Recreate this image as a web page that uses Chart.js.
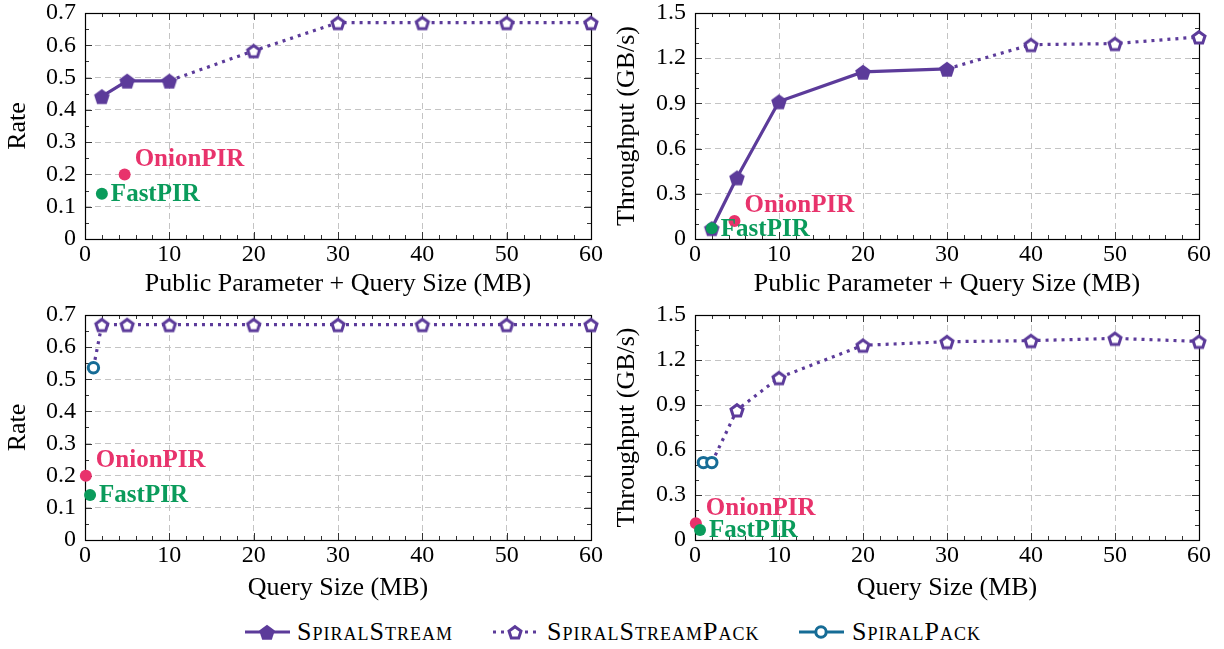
<!DOCTYPE html>
<html><head><meta charset="utf-8">
<script src="https://cdn.jsdelivr.net/npm/chart.js@4.4.1/dist/chart.umd.min.js"></script>
<style>
html,body{margin:0;padding:0;background:#fff;}
body{width:1224px;height:649px;overflow:hidden;position:relative;font-family:'Liberation Serif','Times New Roman',serif;}
.pane{position:absolute;}
.li{position:absolute;top:618px;height:28px;}
.li span{position:absolute;top:0;font-size:26px;font-variant:small-caps;letter-spacing:1px;white-space:nowrap;line-height:28px;color:#000;}
.li svg{position:absolute;top:4px;}
</style></head>
<body>
<div class="pane" style="left:0;top:0"><canvas id="c1" width="612" height="300"></canvas></div>
<div class="pane" style="left:612px;top:0"><canvas id="c2" width="612" height="300"></canvas></div>
<div class="pane" style="left:0;top:300px"><canvas id="c3" width="612" height="305"></canvas></div>
<div class="pane" style="left:612px;top:300px"><canvas id="c4" width="612" height="305"></canvas></div>
<div id="legend"></div>
<script>
// ---------- data ----------
const xTicks = [0, 10, 20, 30, 40, 50, 60];
const rateTicks = [0, 0.1, 0.2, 0.3, 0.4, 0.5, 0.6, 0.7];
const thrTicks = [0, 0.3, 0.6, 0.9, 1.2, 1.5];

// Top-left: rate vs public parameter + query size
const streamPP = [2, 5, 10];
const streamRatePP = [0.442, 0.49, 0.49];
const streamPackPP = [10, 20, 30, 40, 50, 60];
const streamPackRatePP = [0.49, 0.583, 0.67, 0.67, 0.67, 0.67];
const onionPP = [4.7], onionRatePP = [0.2];
const fastPP = [2], fastRatePP = [0.14];

// Top-right: throughput vs public parameter + query size
const streamPP2 = [2, 5, 10, 20, 30];
const streamThrPP = [0.071, 0.408, 0.913, 1.109, 1.129];
const streamPackPP2 = [30, 40, 50, 60];
const streamPackThrPP = [1.129, 1.29, 1.297, 1.341];
const onionThrPP = [0.12];
const fastThrPP = [0.071];

// Bottom-left: rate vs query size
const packQ = [1], packRateQ = [0.536];
const streamPackQ = [1, 2, 5, 10, 20, 30, 40, 50, 60];
const streamPackRateQ = [0.536, 0.67, 0.67, 0.67, 0.67, 0.67, 0.67, 0.67, 0.67];
const onionQ = [0.1], onionRateQ = [0.2];
const fastQ = [0.6], fastRateQ = [0.14];

// Bottom-right: throughput vs query size
const packQ2 = [1, 2], packThrQ = [0.516, 0.516];
const streamPackQ2 = [2, 5, 10, 20, 30, 40, 50, 60];
const streamPackThrQ = [0.516, 0.867, 1.082, 1.298, 1.322, 1.329, 1.344, 1.324];
const onionThrQ = [0.111];
const fastThrQ = [0.067];

const seriesNames = ['SpiralStream', 'SpiralStreamPack', 'SpiralPack'];

// ---------- styles ----------
const FONT = "'Liberation Serif', 'Times New Roman', serif";
const PURPLE = '#5c3b9a';
const BLUE = '#166c96';
const PINK = '#e8336c';
const GREEN = '#0a9b5b';

function pentagon(filled) {
  const s = 22, c = document.createElement('canvas');
  c.width = s; c.height = s;
  const g = c.getContext('2d');
  const r = filled ? 8.2 : 6.3;
  g.beginPath();
  for (let i = 0; i < 5; i++) {
    const a = -Math.PI / 2 + i * 2 * Math.PI / 5;
    const px = s / 2 + r * Math.cos(a), py = s / 2 + 1 + r * Math.sin(a);
    if (i) g.lineTo(px, py); else g.moveTo(px, py);
  }
  g.closePath();
  if (filled) { g.fillStyle = PURPLE; g.fill(); }
  else { g.fillStyle = '#fff'; g.fill(); g.lineWidth = 3; g.strokeStyle = PURPLE; g.lineJoin = 'miter'; g.stroke(); }
  return c;
}
const PENT_FILLED = pentagon(true);
const PENT_OPEN = pentagon(false);

const pts = (xs, ys) => xs.map((x, i) => ({ x: x, y: ys[i] }));

function streamDS(xs, ys) {
  return { label: seriesNames[0], data: pts(xs, ys), showLine: true, borderColor: PURPLE, backgroundColor: PURPLE,
    borderWidth: 3.2, pointStyle: PENT_FILLED, pointRadius: 8, clip: false };
}
function streamPackDS(xs, ys) {
  return { label: seriesNames[1], data: pts(xs, ys), showLine: true, borderColor: PURPLE, backgroundColor: '#fff',
    borderWidth: 3.2, borderDash: [3, 5], pointStyle: PENT_OPEN,
    pointRadius: xs.map((v, i) => i === 0 ? 0 : 8), clip: false };
}
function packDS(xs, ys) {
  return { label: seriesNames[2], data: pts(xs, ys), showLine: true, borderColor: BLUE, backgroundColor: '#fff',
    borderWidth: 3, pointStyle: 'circle', pointRadius: 5.2, pointBorderWidth: 3, clip: false };
}
function dotDS(name, x, y, color, dx, dy) {
  return { label: name, data: pts(x, y), showLine: false, borderColor: color, backgroundColor: color,
    pointStyle: 'circle', pointRadius: 6, pointBorderWidth: 0, clip: false, tag: name, tagDx: dx, tagDy: dy };
}

const labelPlugin = {
  id: 'ptlabels',
  afterDatasetsDraw(chart) {
    const ctx = chart.ctx;
    chart.data.datasets.forEach((ds, i) => {
      if (!ds.tag) return;
      const el = chart.getDatasetMeta(i).data[0];
      ctx.save();
      ctx.font = 'bold 25px ' + FONT;
      ctx.fillStyle = ds.borderColor;
      ctx.textBaseline = 'middle';
      ctx.textAlign = 'left';
      ctx.fillText(ds.tag, el.x + ds.tagDx, el.y + ds.tagDy + 1);
      ctx.restore();
    });
  }
};

const framePlugin = {
  id: 'frame',
  beforeDatasetsDraw(chart, args, o) {
    const { ctx, chartArea: a, scales: { x, y } } = chart;
    ctx.save();
    ctx.strokeStyle = '#333';
    ctx.lineWidth = 1;
    const seg = (x1, y1, x2, y2) => { ctx.beginPath(); ctx.moveTo(x1, y1); ctx.lineTo(x2, y2); ctx.stroke(); };
    const nx = Math.round((x.max - x.min) / o.xMinor);
    for (let i = 0; i <= nx; i++) {
      const v = x.min + i * o.xMinor;
      const px = Math.round(x.getPixelForValue(v)) + 0.5;
      const L = (i % o.xEvery === 0) ? 7 : 4;
      seg(px, a.bottom, px, a.bottom - L);
      seg(px, a.top, px, a.top + L);
    }
    const ny = Math.round((y.max - y.min) / o.yMinor);
    for (let i = 0; i <= ny; i++) {
      const v = y.min + i * o.yMinor;
      const py = Math.round(y.getPixelForValue(v)) + 0.5;
      const L = (i % o.yEvery === 0) ? 7 : 4;
      seg(a.left, py, a.left + L, py);
      seg(a.right, py, a.right - L, py);
    }
    ctx.strokeStyle = '#000';
    ctx.lineWidth = 1.2;
    ctx.strokeRect(Math.round(a.left) + 0.5, Math.round(a.top) + 0.5, Math.round(a.width), Math.round(a.height));
    ctx.restore();
  }
};

function makeChart(id, datasets, cfg) {
  const fmt = v => v === 0 ? '0' : Number(v).toFixed(1);
  return new Chart(document.getElementById(id), {
    type: 'scatter',
    data: { datasets: datasets },
    options: {
      responsive: false, animation: false, devicePixelRatio: 1,
      layout: { padding: { left: 0, right: cfg.padRight, top: cfg.padTop, bottom: 0 } },
      plugins: { legend: { display: false }, tooltip: { enabled: false }, frame: cfg.frame },
      scales: {
        x: {
          type: 'linear', min: 0, max: 60,
          afterBuildTicks: s => { s.ticks = xTicks.map(v => ({ value: v })); },
          afterFit: s => { s.height = cfg.xHeight; },
          ticks: { font: { family: FONT, size: 24, lineHeight: 1 }, color: '#000', padding: 4, maxRotation: 0, autoSkip: false,
            callback: v => String(v) },
          grid: { color: '#c4c4c4', lineWidth: 1, drawTicks: false },
          border: { display: false, dash: [6, 4] },
          title: { display: true, text: cfg.xTitle, font: { family: FONT, size: 26, lineHeight: 1.2 }, color: '#000', padding: { top: 0, bottom: cfg.xTitlePad } }
        },
        y: {
          type: 'linear', min: 0, max: cfg.yMax,
          afterBuildTicks: s => { s.ticks = cfg.yTicks.map(v => ({ value: v })); },
          afterFit: s => { s.width = cfg.yWidth; },
          ticks: { font: { family: FONT, size: 24, lineHeight: 0.25 }, color: '#000', padding: 9, autoSkip: false, callback: fmt },
          grid: { color: '#c4c4c4', lineWidth: 1, drawTicks: false },
          border: { display: false, dash: [6, 4] },
          title: { display: true, text: cfg.yTitle, font: { family: FONT, size: 26, lineHeight: 1.2 }, color: '#000', padding: { top: cfg.yTitlePad, bottom: 0 } }
        }
      }
    },
    plugins: [framePlugin, labelPlugin]
  });
}

const rateFrame = { xMinor: 2, xEvery: 5, yMinor: 0.05, yEvery: 2 };
const thrFrame = { xMinor: 2, xEvery: 5, yMinor: 0.1, yEvery: 3 };

makeChart('c1', [
  dotDS('FastPIR', fastPP, fastRatePP, GREEN, 9, 0),
  dotDS('OnionPIR', onionPP, onionRatePP, PINK, 10, -16),
  streamDS(streamPP, streamRatePP),
  streamPackDS(streamPackPP, streamPackRatePP)
], { padRight: 21, padTop: 13, xHeight: 61, yWidth: 85, yMax: 0.7, yTicks: rateTicks,
     xTitle: 'Public Parameter + Query Size (MB)', yTitle: 'Rate', xTitlePad: 0, yTitlePad: 3, frame: rateFrame });

makeChart('c2', [
  dotDS('FastPIR', fastPP, fastThrPP, GREEN, 9, 0),
  dotDS('OnionPIR', onionPP, onionThrPP, PINK, 10, -16),
  streamDS(streamPP2, streamThrPP),
  streamPackDS(streamPackPP2, streamPackThrPP)
], { padRight: 25, padTop: 13, xHeight: 61, yWidth: 83, yMax: 1.5, yTicks: thrTicks,
     xTitle: 'Public Parameter + Query Size (MB)', yTitle: 'Throughput (GB/s)', xTitlePad: 0, yTitlePad: 0, frame: thrFrame });

makeChart('c3', [
  dotDS('FastPIR', fastQ, fastRateQ, GREEN, 9, 0),
  dotDS('OnionPIR', onionQ, onionRateQ, PINK, 10, -16),
  packDS(packQ, packRateQ),
  streamPackDS(streamPackQ, streamPackRateQ)
], { padRight: 21, padTop: 15, xHeight: 65, yWidth: 85, yMax: 0.7, yTicks: rateTicks,
     xTitle: 'Query Size (MB)', yTitle: 'Rate', xTitlePad: 1, yTitlePad: 3, frame: rateFrame });

makeChart('c4', [
  dotDS('FastPIR', fastQ, fastThrQ, GREEN, 9, 0),
  dotDS('OnionPIR', onionQ, onionThrQ, PINK, 10, -16),
  packDS(packQ2, packThrQ),
  streamPackDS(streamPackQ2, streamPackThrQ)
], { padRight: 25, padTop: 15, xHeight: 65, yWidth: 83, yMax: 1.5, yTicks: thrTicks,
     xTitle: 'Query Size (MB)', yTitle: 'Throughput (GB/s)', xTitlePad: 1, yTitlePad: 0, frame: thrFrame });

// ---------- legend ----------
const legendItems = [
  { name: seriesNames[0], left: 245, textLeft: 297, color: PURPLE, dash: '', marker: 'pf' },
  { name: seriesNames[1], left: 493, textLeft: 547, color: PURPLE, dash: '3 5', marker: 'po' },
  { name: seriesNames[2], left: 799, textLeft: 852, color: BLUE, dash: '', marker: 'c' }
];
const lg = document.getElementById('legend');
legendItems.forEach(it => {
  const d = document.createElement('div');
  d.className = 'li';
  d.style.left = it.left + 'px';
  let mk = '';
  const cx = 22, cy = 10;
  const pent = (r) => { let p = []; for (let i = 0; i < 5; i++) { const a = -Math.PI / 2 + i * 2 * Math.PI / 5; p.push((cx + r * Math.cos(a)).toFixed(2) + ',' + (cy + 1 + r * Math.sin(a)).toFixed(2)); } return p.join(' '); };
  if (it.marker === 'pf') mk = '<polygon points="' + pent(8.2) + '" fill="' + it.color + '"/>';
  if (it.marker === 'po') mk = '<polygon points="' + pent(6.3) + '" fill="#fff" stroke="' + it.color + '" stroke-width="3"/>';
  if (it.marker === 'c') mk = '<circle cx="' + cx + '" cy="' + cy + '" r="5.2" fill="#fff" stroke="' + it.color + '" stroke-width="3"/>';
  d.innerHTML = '<svg width="46" height="20"><line x1="0" y1="' + cy + '" x2="45" y2="' + cy + '" stroke="' + it.color + '" stroke-width="3.2"' +
    (it.dash ? ' stroke-dasharray="' + it.dash + '"' : '') + '/>' + mk + '</svg>' +
    '<span style="left:' + (it.textLeft - it.left) + 'px">' + it.name + '</span>';
  lg.appendChild(d);
});
</script>
</body></html>
